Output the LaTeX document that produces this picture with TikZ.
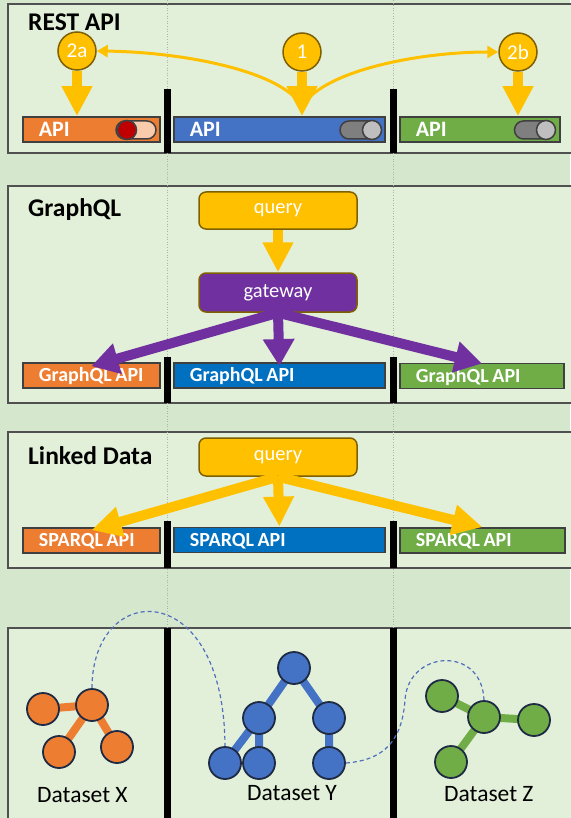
\documentclass[tikz,border=0pt]{standalone}
\usepackage{fontspec}
\setmainfont{Carlito}
\usetikzlibrary{arrows.meta}
\newcommand\myTightSpace{\spaceskip=3.6pt plus 1pt\relax}
\definecolor{outerbg}{RGB}{213,232,205}
\definecolor{panelbg}{RGB}{226,240,217}
\definecolor{panelborder}{RGB}{80,80,80}
\definecolor{guidegray}{RGB}{170,180,170}
\definecolor{boxborder}{RGB}{64,64,64}
\definecolor{cOrange}{RGB}{237,125,49}
\definecolor{cBlue}{RGB}{68,114,196}
\definecolor{cBlueB}{RGB}{0,112,192}
\definecolor{cGreen}{RGB}{112,173,71}
\definecolor{cYellow}{RGB}{255,192,0}
\definecolor{cPurple}{RGB}{112,48,160}
\definecolor{cBrown}{RGB}{127,96,0}
\definecolor{cPeach}{RGB}{248,203,173}
\definecolor{cRed}{RGB}{192,0,0}
\definecolor{cGrayA}{RGB}{127,127,127}
\definecolor{cGrayB}{RGB}{191,191,191}
\definecolor{navy}{RGB}{31,42,68}
\definecolor{cLink}{RGB}{80,110,190}
\pgfdeclarelayer{back}
\pgfdeclarelayer{mid}
\pgfsetlayers{back,mid,main}
\begin{document}
\begin{tikzpicture}[x=1pt,y=-1pt,
  panel/.style={fill=panelbg, draw=panelborder, line width=2pt},
  guide/.style={draw=guidegray, dotted, line width=0.6pt},
  sepbar/.style={line width=7pt, black},
  apibox/.style={anchor=west, draw=boxborder, line width=1.8pt, minimum height=25pt, inner xsep=16pt, inner ysep=0pt, text=white, font=\fontsize{20}{21}\selectfont\bfseries\myTightSpace, align=flush left, text height=12.9pt, text depth=0pt},
  restbox/.style={apibox, font=\fontsize{22}{24}\selectfont\bfseries, text height=14.2pt},
  toggle/.style={draw=boxborder, line width=1.5pt, rounded corners=9pt, minimum width=40pt, minimum height=18pt, inner sep=0pt},
  knob/.style={circle, draw=boxborder, line width=1.5pt, minimum size=19pt, inner sep=0pt},
  stepcircle/.style={circle, fill=cYellow, draw=cBrown, line width=1.5pt, minimum size=38pt, inner sep=0pt, text=white, font=\fontsize{21}{22}\selectfont},
  procbox/.style={rounded corners=7pt, draw=cBrown, line width=1.5pt, minimum width=158pt, inner sep=0pt, text=white, font=\fontsize{20.5}{22}\selectfont},
  yblock/.style={line width=10pt, cYellow, -{Triangle[width=29pt,length=30pt]}},
  pblock/.style={line width=10pt, cPurple, -{Triangle[width=30pt,length=27pt]}},
  thinarrow/.style={line width=3pt, cYellow, -{Triangle[width=12pt,length=11pt]}},
  dnode/.style={circle, minimum size=32pt, inner sep=0pt, draw=navy, line width=1.8pt},
  dedge/.style={line width=8pt},
  dlink/.style={draw=cLink, line width=1.2pt, dash pattern=on 4pt off 3pt},
  title/.style={anchor=base west, inner sep=0pt, font=\fontsize{25.5}{28}\selectfont\bfseries},
  dlabel/.style={anchor=base west, inner sep=0pt, font=\fontsize{23.5}{26}\selectfont}
]
\useasboundingbox (0,0) rectangle (570,818);
\clip (0,0) rectangle (570,818);

\begin{pgfonlayer}{back}
\fill[outerbg] (0,0) rectangle (570,818);
\draw[panel] (8,4) rectangle (610,153);
\draw[panel] (8,186) rectangle (610,403);
\draw[panel] (8,432) rectangle (610,568);
\draw[panel] (8,628) rectangle (610,840);
\draw[guide] (167,0) -- (167,818);
\draw[guide] (393,0) -- (393,818);
\end{pgfonlayer}

% separators
\draw[sepbar] (167,89) -- (167,153);
\draw[sepbar] (393,89) -- (393,153);
\draw[sepbar] (167,357) -- (167,403);
\draw[sepbar] (393,357) -- (393,403);
\draw[sepbar] (167,521) -- (167,568);
\draw[sepbar] (393,521) -- (393,568);
\draw[sepbar] (167,628) -- (167,830);
\draw[sepbar] (393,628) -- (393,830);

% ---------------- REST API
\node[title] (tRest) at (28,30.5) {REST API};
\node[restbox, fill=cOrange, text width=105pt] (rO) at (22,129.5) {API};
\node[restbox, fill=cBlue, text width=179pt] (rB) at (173,129.5) {API};
\node[restbox, fill=cGreen, text width=128pt] (rG) at (399,129.5) {API};
\node[toggle, fill=cPeach] (tgO) at (136,130) {};
\node[knob, fill=cRed] (kO) at (127,130) {};
\node[toggle, fill=cGrayA] (tgB) at (360,130) {};
\node[knob, fill=cGrayB] (kB) at (372,130) {};
\node[toggle, fill=cGrayA] (tgG) at (534.5,130) {};
\node[knob, fill=cGrayB] (kG) at (546,130) {};

\node[stepcircle] (c2a) at (77,51) {2a};
\node[stepcircle] (c1) at (302,52) {1};
\node[stepcircle] (c2b) at (518,52) {2b};
\draw[yblock] (c2a.south) -- (c2a.south |- rO.north);
\draw[yblock] (c1.south) -- (c1.south |- rB.north);
\draw[yblock] (c2b.south) -- (c2b.south |- rG.north);
\coordinate (fork) at (302,106);
\draw[thinarrow] (fork) .. controls (280,70) and (180,52) .. (c2a.east);
\draw[thinarrow] (fork) .. controls (325,70) and (420,52) .. (c2b.west);

% ---------------- GraphQL
\node[title] (tGql) at (28,216.5) {GraphQL};
\node[procbox, fill=cYellow, minimum height=37pt] (q1) at (278,210.5) {query};
\node[procbox, fill=cPurple, minimum height=39pt] (gw) at (278,292.5) {gateway};
\node[apibox, fill=cOrange, text width=105pt] (gO) at (22,375.5) {GraphQL API};
\node[apibox, fill=cBlueB, text width=179pt] (gB) at (173,375.5) {GraphQL API};
\node[apibox, fill=cGreen, text width=132pt] (gG) at (399,376) {GraphQL API};
\draw[yblock] (q1.south) -- (gw.north);
\draw[pblock] (gw.south) -- ([yshift=-4pt]gO.north);
\draw[pblock] (gw.south) -- ([yshift=-4pt]gB.north);
\draw[pblock] (gw.south) -- ([yshift=-1pt]gG.north);

% ---------------- Linked Data
\node[title] (tLd) at (28,464) {Linked Data};
\node[procbox, fill=cYellow, minimum height=38pt] (q2) at (278,457) {query};
\node[apibox, fill=cOrange, text width=105pt] (sO) at (22,540.5) {SPARQL API};
\node[apibox, fill=cBlueB, text width=179pt] (sB) at (173,540) {SPARQL API};
\node[apibox, fill=cGreen, text width=133pt] (sG) at (399,540.5) {SPARQL API};
\draw[yblock] (q2.south) -- ([yshift=-3pt]sO.north);
\draw[yblock] (q2.south) -- (sB.north);
\draw[yblock] (q2.south) -- (sG.north);

% ---------------- Datasets
\node[dnode, fill=cOrange] (xa) at (43,709) {};
\node[dnode, fill=cOrange] (xb) at (92,705) {};
\node[dnode, fill=cOrange] (xc) at (59,752) {};
\node[dnode, fill=cOrange] (xd) at (117,747) {};
\node[dnode, fill=cBlue] (ya) at (294,668) {};
\node[dnode, fill=cBlue] (yb) at (259,718) {};
\node[dnode, fill=cBlue] (yc) at (329,718) {};
\node[dnode, fill=cBlue] (yd) at (225,763) {};
\node[dnode, fill=cBlue] (ye) at (259,763) {};
\node[dnode, fill=cBlue] (yf) at (329,763) {};
\node[dnode, fill=cGreen] (za) at (442,696) {};
\node[dnode, fill=cGreen] (zb) at (484,717) {};
\node[dnode, fill=cGreen] (zc) at (534,720) {};
\node[dnode, fill=cGreen] (zd) at (451,762) {};
\begin{pgfonlayer}{mid}
\draw[dedge, cOrange] (xa.center) -- (xb.center) (xb.center) -- (xc.center) (xb.center) -- (xd.center);
\draw[dedge, cBlue] (ya.center) -- (yb.center) (ya.center) -- (yc.center) (yb.center) -- (yd.center) (yb.center) -- (ye.center) (yc.center) -- (yf.center);
\draw[dedge, cGreen] (za.center) -- (zb.center) (zb.center) -- (zc.center) (zb.center) -- (zd.center);
\end{pgfonlayer}
\draw[dlink] (xb.north) .. controls (92,580) and (224,575) .. (yd.north);
\coordinate (bend) at (405,700);
\draw[dlink] (yf.east) .. controls (385,760) and (402,740) .. (bend) .. controls (408,650) and (482,645) .. (zb.north);

\node[dlabel] (lX) at (37,802) {Dataset X};
\node[dlabel] (lY) at (247,800) {Dataset Y};
\node[dlabel] (lZ) at (444,801) {Dataset Z};
\end{tikzpicture}
\end{document}
